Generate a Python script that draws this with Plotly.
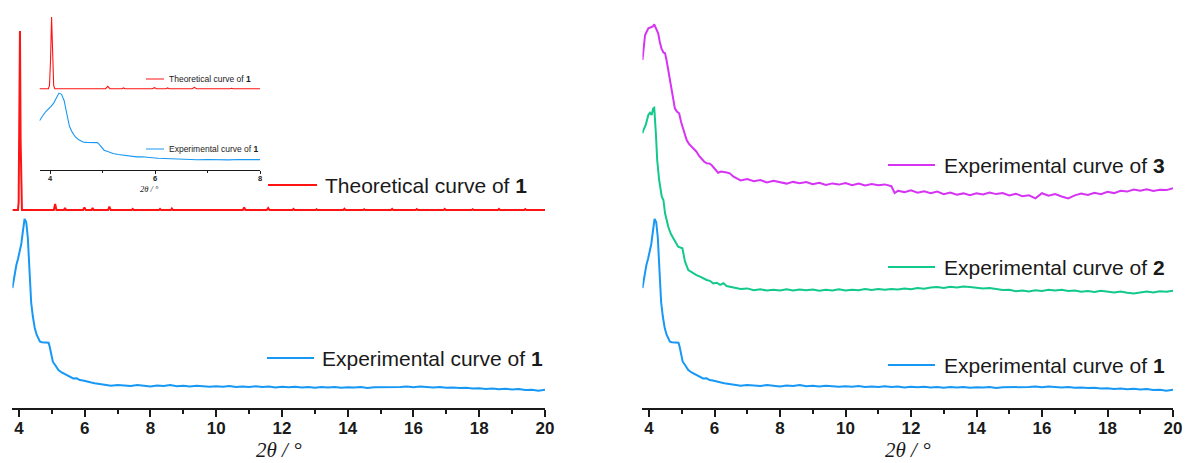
import plotly.graph_objects as go

W, H = 1189, 463

# ---------------- data (2θ in degrees, intensity in a.u.) ----------------
# Simulated pattern of compound 1 (stick-like peaks on a flat baseline)
theo_x = [3.80, 3.97, 3.99, 4.01, 4.03, 4.05, 4.07, 4.09,
          5.06, 5.10, 5.14, 5.37, 5.40, 5.43, 5.95, 5.99, 6.03,
          6.21, 6.24, 6.27, 6.71, 6.75, 6.79, 7.43, 7.46, 7.49,
          8.26, 8.29, 8.32, 8.62, 8.65, 8.68, 10.81, 10.85, 10.89,
          11.54, 11.58, 11.62, 12.32, 12.35, 12.38, 13.02, 13.05, 13.08,
          13.87, 13.90, 13.93, 14.47, 14.50, 14.53, 15.32, 15.35, 15.38,
          16.07, 16.10, 16.13, 16.92, 16.95, 16.98, 17.77, 17.80, 17.83,
          18.57, 18.60, 18.63, 19.37, 19.40, 19.43, 20.00]
theo_y = [0, 0, 8, 70, 179, 70, 8, 0,
          0, 6, 0, 0, 2, 0, 0, 2.5, 0,
          0, 2, 0, 0, 3.5, 0, 0, 1, 0,
          0, 1, 0, 0, 1.5, 0, 0, 2.5, 0,
          0, 2, 0, 0, 1, 0, 0, 0.8, 0,
          0, 1.2, 0, 0, 0.8, 0, 0, 1, 0,
          0, 0.9, 0, 0, 1.1, 0, 0, 0.8, 0,
          0, 1, 0, 0, 0.9, 0, 0]

# Experimental curve of 1
exp1_x = [3.80, 3.84, 3.88, 3.92, 3.97, 4.02, 4.07, 4.12, 4.17, 4.22, 4.27,
          4.31, 4.34, 4.37, 4.42, 4.48, 4.54, 4.59, 4.64, 4.70, 4.77, 4.84,
          4.90, 4.93, 4.97, 5.03, 5.10, 5.20, 5.30, 5.45, 5.55, 5.65, 5.76,
          5.85, 5.95, 6.06, 6.20, 6.30, 6.47,
          6.6, 6.8, 7.0, 7.2, 7.4, 7.6, 7.8, 8.0, 8.2, 8.4, 8.6, 8.8, 9.0,
          9.2, 9.4, 9.6, 9.8, 10.0, 10.2, 10.4, 10.6, 10.8, 11.0, 11.2, 11.4,
          11.6, 11.8, 12.0, 12.2, 12.4, 12.6, 12.8, 13.0, 13.2, 13.4, 13.6,
          13.8, 14.0, 14.2, 14.4, 14.6, 14.8, 15.0, 15.2, 15.4, 15.6, 15.8,
          16.0, 16.2, 16.4, 16.6, 16.8, 17.0, 17.2, 17.4, 17.6, 17.8, 18.0,
          18.2, 18.4, 18.6, 18.8, 19.0, 19.2, 19.4, 19.6, 19.8, 20.0]
exp1_y = [118, 127, 134, 141, 147, 154, 162, 175, 187, 184, 168,
          142, 118, 104, 90, 78, 71, 67, 64.3, 63.7, 63.5, 63.8,
          63.3, 60, 52.7, 44.3, 41, 36, 33.5, 31, 29.5, 27.5, 27.7,
          26, 25.5, 24.3, 23.5, 22.8, 21.7,
          21.0, 20.2, 21.1, 20.4, 20.0, 20.9, 20.3, 19.6, 20.6, 20.1, 21.0, 19.8, 20.3,
          19.5, 20.2, 19.9, 19.2, 19.8, 19.3, 19.9, 19.0, 19.6, 19.1, 19.7, 18.9,
          19.4, 18.6, 19.3, 18.7, 19.2, 18.4, 19.0, 18.3, 18.9, 18.5, 19.1,
          18.2, 18.8, 18.4, 18.9, 18.1, 18.7, 18.6, 19.2, 18.5, 19.0, 19.4,
          18.8, 19.5, 19.0, 18.6, 19.1, 18.2, 18.6, 17.9, 18.3, 17.4, 17.8,
          17.1, 17.5, 16.8, 17.2, 16.4, 16.9, 15.9, 16.3, 15.3, 16.2]

# Experimental curve of 2
exp2_x = [3.80, 3.83, 3.90, 3.98, 4.03, 4.08, 4.13, 4.16, 4.21, 4.25, 4.31,
          4.39, 4.44, 4.49, 4.54, 4.59, 4.67, 4.74, 4.89, 5.02, 5.06, 5.10, 5.20,
          5.35, 5.45, 5.56, 5.66, 5.76, 5.86, 5.96, 6.07, 6.17, 6.27, 6.37, 6.47,
          6.6, 6.8, 7.0, 7.2, 7.4, 7.6, 7.8, 8.0, 8.2, 8.4, 8.6, 8.8, 9.0,
          9.2, 9.4, 9.6, 9.8, 10.0, 10.2, 10.4, 10.6, 10.8, 11.0, 11.2, 11.4,
          11.6, 11.8, 12.0, 12.2, 12.4, 12.6, 12.8, 13.0, 13.2, 13.4, 13.6,
          13.8, 14.0, 14.2, 14.4, 14.6, 14.8, 15.0, 15.2, 15.4, 15.6, 15.8,
          16.0, 16.2, 16.4, 16.6, 16.8, 17.0, 17.2, 17.4, 17.6, 17.8, 18.0,
          18.2, 18.4, 18.6, 18.8, 19.0, 19.2, 19.4, 19.6, 19.8, 20.0]
exp2_y = [175.7, 179.0, 184.0, 194.0, 196.3, 194.0, 200.7, 201.3, 175.7, 149.0, 129.0,
          112.3, 109.0, 95.7, 89.0, 82.0, 75.0, 70.7, 62.3, 60.7, 54.0, 47.3, 39.0,
          35.7, 33.8, 32.3, 30.6, 29.0, 28.2, 25.6, 26.3, 24.1, 25.7, 22.9, 22.3,
          21.2, 19.9, 20.6, 18.8, 19.7, 18.4, 19.3, 18.6, 19.8, 18.5, 19.4, 18.7, 19.6,
          18.3, 19.2, 18.6, 19.7, 18.5, 19.3, 18.8, 19.9, 19.1, 20.0, 19.2, 20.1,
          19.5, 20.6, 19.8, 20.9, 20.3, 21.4, 21.9, 21.1, 22.2, 21.5, 22.6,
          22.0, 21.6, 20.5, 20.9, 19.8, 18.9, 19.3, 17.8, 18.4, 17.6, 18.7,
          18.1, 19.3, 18.5, 19.2, 17.9, 18.6, 17.3, 18.1, 17.0, 18.2, 17.4,
          16.5, 17.6, 16.2, 15.6, 16.9, 17.5, 16.6, 17.8, 17.3, 18.3]

# Experimental curve of 3
exp3_x = [3.80, 3.88, 3.98, 4.08, 4.12, 4.16, 4.20, 4.28, 4.33, 4.38, 4.44,
          4.49, 4.54, 4.59, 4.64, 4.69, 4.74, 4.79, 4.85, 4.92, 4.98, 5.05,
          5.10, 5.15, 5.22, 5.30, 5.38, 5.45, 5.53, 5.61, 5.68, 5.76, 5.84,
          5.91, 6.00, 6.11, 6.20, 6.27, 6.37, 6.47, 6.57, 6.68,
          6.8, 7.0, 7.2, 7.4, 7.6, 7.8, 8.0, 8.2, 8.4, 8.6, 8.8, 9.0,
          9.2, 9.4, 9.6, 9.8, 10.0, 10.2, 10.4, 10.6, 10.8, 11.0, 11.2, 11.4,
          11.5, 11.6, 11.8, 12.0, 12.2, 12.4, 12.6, 12.8, 13.0, 13.2, 13.4, 13.6,
          13.8, 14.0, 14.2, 14.4, 14.6, 14.8, 15.0, 15.2, 15.4, 15.6, 15.8,
          16.0, 16.2, 16.4, 16.6, 16.8, 17.0, 17.2, 17.4, 17.6, 17.8, 18.0,
          18.2, 18.4, 18.6, 18.8, 19.0, 19.2, 19.4, 19.6, 19.8, 20.0]
exp3_y = [146, 171, 177.7, 178.7, 179.5, 181.7, 179, 172.7, 164, 157.7, 153.5,
          152.7, 145, 136, 126, 116, 105, 97.7, 94.5, 92.7, 84, 76,
          70, 66, 62, 59.3, 57, 54.3, 50, 46.7, 44.5, 42.7, 42.5,
          41, 37, 33.3, 34.5, 34.3, 33.5, 32.7, 29.5, 27.7,
          25.6, 27.0, 24.8, 25.9, 23.6, 25.2, 23.9, 22.4, 24.1, 22.8, 24.0, 21.7,
          23.2, 21.0, 22.6, 21.4, 23.0, 20.9, 22.4, 20.6, 21.9, 20.8, 21.6, 19.8,
          13.0, 15.2, 13.9, 15.6, 13.2, 14.8, 12.9, 14.4, 11.8, 13.5, 11.2, 12.6,
          10.9, 12.8, 11.5, 13.4, 11.9, 13.0, 10.6, 12.3, 9.8, 10.7, 7.6,
          12.8, 10.4, 11.9, 9.5, 7.5, 10.6, 12.4, 11.0, 13.2, 11.7, 14.2,
          12.9, 15.3, 14.4, 16.5, 15.2, 16.8, 15.0, 16.3, 15.9, 17.7]

labels = {
    "theo1": "Theoretical curve of <b>1</b>",
    "exp1": "Experimental curve of <b>1</b>",
    "exp2": "Experimental curve of <b>2</b>",
    "exp3": "Experimental curve of <b>3</b>",
}
tick_vals = [4, 6, 8, 10, 12, 14, 16, 18, 20]
inset_tick_vals = [4, 6, 8]
axis_title = "2θ / °"

# ---------------- styling ----------------
RED, BLUE, GREEN, MAGENTA = "#FF1414", "#1898F5", "#12C98A", "#D633F5"
INK = "#1a1a1a"
SANS = "Liberation Sans, Arial, sans-serif"
SERIF = "Liberation Serif, Times New Roman, serif"

# vertical stacking offsets (a.u.)
off_theo, off_exp2, off_exp3 = 196, 97, 200
# inset rescaling of the same patterns
inset_scale, inset_off_theo, inset_off_exp = 0.4, 81.3, 2.1


def fx(px):
    return px / W


def fy(py):
    return 1 - py / H


fig = go.Figure()


def add(x, y, color, xa, ya, width=2.0):
    fig.add_trace(go.Scatter(x=x, y=y, mode="lines", xaxis=xa, yaxis=ya,
                             line=dict(color=color, width=width),
                             showlegend=False, hoverinfo="skip"))


# left panel
add(theo_x, [v + off_theo for v in theo_y], RED, "x", "y")
add(exp1_x, exp1_y, BLUE, "x", "y")
# right panel
add(exp3_x, [v + off_exp3 for v in exp3_y], MAGENTA, "x2", "y2")
add(exp2_x, [v + off_exp2 for v in exp2_y], GREEN, "x2", "y2")
add(exp1_x, exp1_y, BLUE, "x2", "y2")
# inset
add(theo_x, [v * inset_scale + inset_off_theo for v in theo_y], RED, "x3", "y3", 1.1)
add(exp1_x, [v * inset_scale + inset_off_exp for v in exp1_y], BLUE, "x3", "y3", 1.1)


def main_xaxis(domain, anchor):
    return dict(domain=domain, anchor=anchor, range=[3.8, 20],
                showline=True, linecolor=INK, linewidth=2,
                showgrid=False, zeroline=False,
                tickmode="array", tickvals=tick_vals,
                ticks="outside", ticklen=7, tickwidth=2, tickcolor=INK,
                ticklabelstandoff=-3,
                tickfont=dict(family=SANS, size=17, color=INK, weight="bold"),
                minor=dict(ticks="outside", ticklen=4, tickwidth=2,
                           tickcolor=INK, dtick=1, tick0=3),
                automargin=False, fixedrange=True)


def hidden_yaxis(domain, rng, anchor):
    return dict(domain=domain, range=rng, anchor=anchor, visible=False,
                showgrid=False, zeroline=False, fixedrange=True)


left_dom = [fx(12.4), fx(545)]
right_dom = [fx(642.45), fx(1173)]
inset_dom = [fx(39.5), fx(260)]
main_ydom = [fy(407.5), fy(10)]
fig.update_layout(
    width=W, height=H,
    margin=dict(l=0, r=0, t=0, b=0),
    paper_bgcolor="white", plot_bgcolor="rgba(0,0,0,0)",
    xaxis=main_xaxis(left_dom, "y"),
    yaxis=hidden_yaxis(main_ydom, [-1.5, 396], "x"),
    xaxis2=main_xaxis(right_dom, "y2"),
    yaxis2=hidden_yaxis(main_ydom, [-1.5, 396], "x2"),
    xaxis3=dict(domain=inset_dom, anchor="y3", range=[3.8, 8],
                showline=True, linecolor=INK, linewidth=1,
                showgrid=False, zeroline=False,
                tickmode="array", tickvals=inset_tick_vals,
                ticks="outside", ticklen=3, tickwidth=1, tickcolor=INK,
                ticklabelstandoff=-2,
                tickfont=dict(family=SANS, size=7.5, color=INK, weight="bold"),
                minor=dict(ticks="outside", ticklen=2, tickwidth=1,
                           tickcolor=INK, dtick=1, tick0=3),
                automargin=False, fixedrange=True),
    yaxis3=hidden_yaxis([fy(170), fy(10)], [0, 160], "x3"),
    showlegend=False,
)

# axis titles, centred under each axis
for dom, y, size in [(left_dom, 449.5, 21), (right_dom, 449.5, 21), (inset_dom, 189, 8.5)]:
    fig.add_annotation(xref="paper", yref="paper", x=(dom[0] + dom[1]) / 2,
                       y=fy(y), xanchor="center", yanchor="middle",
                       showarrow=False, text=axis_title, borderpad=0,
                       font=dict(family=SERIF, size=size, color=INK, style="italic"))

# legend keys (line samples + labels)
legend_items = [
    # (x0, x1, y, label, color, font size, line width, gap)
    (268, 317, 185, labels["theo1"], RED, 21, 2, 6),
    (267, 314, 358, labels["exp1"], BLUE, 21, 2, 6),
    (888, 935, 165, labels["exp3"], MAGENTA, 21, 2, 7),
    (888, 935, 267, labels["exp2"], GREEN, 21, 2, 7),
    (888, 935, 365, labels["exp1"], BLUE, 21, 2, 7),
    (146, 164, 79, labels["theo1"], RED, 8.5, 1, 3),
    (146, 164, 149, labels["exp1"], BLUE, 8.5, 1, 3),
]
for x0, x1, y, text, color, size, lw, gap in legend_items:
    fig.add_shape(type="line", xref="paper", yref="paper",
                  x0=fx(x0), x1=fx(x1), y0=fy(y), y1=fy(y),
                  line=dict(color=color, width=lw))
    fig.add_annotation(xref="paper", yref="paper", x=fx(x1 + gap), y=fy(y),
                       xanchor="left", yanchor="middle", showarrow=False,
                       text=text, font=dict(family=SANS, size=size, color=INK))

fig.write_html("out.html")
